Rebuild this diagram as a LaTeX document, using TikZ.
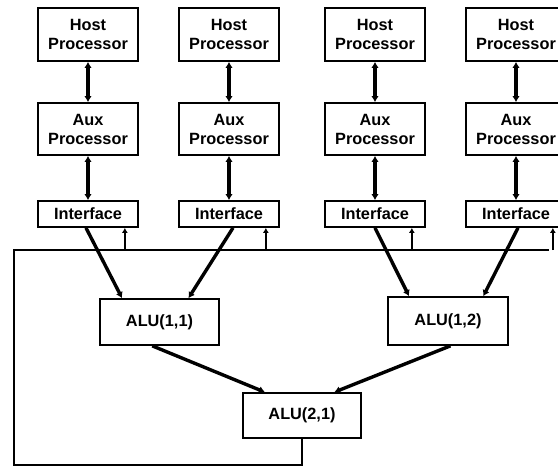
\documentclass[tikz,border=0pt]{standalone}
\usepackage{fontspec}
\setmainfont{Liberation Sans}
\usetikzlibrary{arrows.meta,calc}
\tikzset{
  box/.style={draw,line width=1.7pt,inner sep=0pt,align=center,
    font=\bfseries\fontsize{16.3}{19}\selectfont},
  hostbox/.style={box,minimum width=100pt,minimum height=53pt},
  ifbox/.style={box,minimum width=100pt,minimum height=26pt},
  alubox/.style={box,minimum width=119pt,minimum height=46pt},
  bidir/.style={line width=3.4pt,{Latex[length=6pt,width=7.5pt]}-{Latex[length=6pt,width=7.5pt]}},
  feed/.style={line width=3.4pt,-{Latex[length=6pt,width=7.5pt]}},
  bus/.style={line width=1.7pt},
  busup/.style={line width=1.8pt,-{Latex[length=5pt,width=6pt]}},
}
\begin{document}
\begin{tikzpicture}[x=1pt,y=-1pt]
\clip (0,0) rectangle (558,467);
\fill[white] (0,0) rectangle (558,467);
% columns
\foreach \n/\cx in {1/88,2/229,3/375,4/516}{
  \node[hostbox] (h\n) at (\cx,34.5) {Host\\Processor};
  \node[hostbox,minimum height=52pt] (a\n) at (\cx,129) {Aux\\Processor};
  \node[ifbox] (i\n) at (\cx,214) {Interface};
  \draw[bidir] (h\n.south) -- (a\n.north);
  \draw[bidir] (a\n.south) -- (i\n.north);
}
\node[alubox] (u11) at (159.5,322) {ALU(1,1)};
\node[alubox,minimum width=120pt,minimum height=48pt] (u12) at (448,321) {ALU(1,2)};
\node[alubox,minimum width=118pt,minimum height=45pt] (u21) at (302,415.5) {ALU(2,1)};
% feeds
\draw[feed] ($(i1.south)+(-2,0)$) -- ($(u11.north west)!0.19!(u11.north east)$);
\draw[feed] ($(i2.south)+(4,0)$) -- ($(u11.north west)!0.74!(u11.north east)$);
\draw[feed] (i3.south) -- ($(u12.north west)!0.18!(u12.north east)$);
\draw[feed] ($(i4.south)+(2,0)$) -- ($(u12.north west)!0.79!(u12.north east)$);
\draw[feed] ($(u11.south west)!0.44!(u11.south east)$) -- ($(u21.north west)!0.19!(u21.north east)$);
\draw[feed] ($(u12.south west)!0.52!(u12.south east)$) -- ($(u21.north west)!0.77!(u21.north east)$);
% bus loop
\coordinate (b0) at (14,250);
\coordinate (b1) at (14,465);
\coordinate (b2) at (302,465);
\coordinate (bend) at (549,250);
\draw[bus] (u21.south) -- (b2) -- (b1) -- (b0) -- (bend);
\foreach \n in {1,2,3,4}{
  \coordinate (t\n) at ($(i\n.south east)+(-14,0)$);
  \draw[busup] (t\n |- b0) -- (t\n);
}
\end{tikzpicture}
\end{document}
